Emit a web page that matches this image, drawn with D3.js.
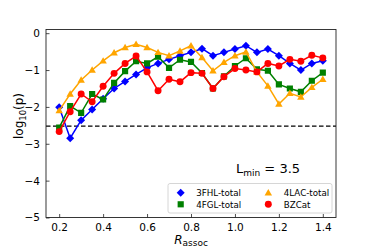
<!DOCTYPE html>
<html>
<head>
<meta charset="utf-8">
<script src="https://cdn.jsdelivr.net/npm/d3@7"></script>
<style>
  html, body { margin: 0; padding: 0; background: #fff; }
  svg { display: block; font-family: "DejaVu Sans", sans-serif; }
</style>
</head>
<body>
<svg id="chart" width="374" height="249"></svg>
<script>
const rAssoc = [0.2,0.25,0.3,0.35,0.4,0.45,0.5,0.55,0.6,0.65,0.7,0.75,0.8,0.85,0.9,0.95,1.0,1.05,1.1,1.15,1.2,1.25,1.3,1.35,1.4];
const fhl3 = [-2.01,-2.85,-2.36,-2.07,-1.78,-1.50,-1.31,-1.12,-0.94,-0.82,-0.71,-0.61,-0.52,-0.42,-0.61,-0.52,-0.43,-0.34,-0.52,-0.43,-0.61,-0.82,-1.00,-0.82,-0.75];
const fgl4 = [-2.56,-1.98,-2.16,-1.65,-1.80,-1.35,-1.03,-0.76,-0.82,-0.64,-0.94,-0.72,-0.78,-1.08,-1.50,-1.17,-0.89,-0.68,-0.98,-1.02,-1.39,-1.50,-1.59,-1.29,-1.07];
const lac4 = [-2.10,-1.65,-1.27,-1.00,-0.75,-0.53,-0.39,-0.30,-0.39,-0.52,-0.61,-0.48,-0.34,-0.66,-1.02,-0.79,-0.61,-0.51,-1.05,-1.43,-1.92,-1.63,-1.73,-1.47,-1.25];
const bzcat = [-2.67,-2.13,-1.65,-1.86,-1.44,-1.09,-0.82,-0.62,-1.05,-1.56,-1.25,-1.32,-1.07,-1.09,-1.50,-1.18,-0.96,-1.00,-1.05,-0.82,-0.89,-0.71,-0.76,-0.60,-0.67];
const threshold = Math.log10(0.003);
const xTicks = [0.2,0.4,0.6,0.8,1.0,1.2,1.4];
const yTicks = [0,-1,-2,-3,-4,-5];
const seriesNames = ["3FHL-total","4FGL-total","4LAC-total","BZCat"];
const lminText = "3.5";

const series = [
  {name: seriesNames[0], values: fhl3, color: "#0000ff", marker: "diamond"},
  {name: seriesNames[1], values: fgl4, color: "#008000", marker: "square"},
  {name: seriesNames[2], values: lac4, color: "#ffa500", marker: "triangle"},
  {name: seriesNames[3], values: bzcat, color: "#ff0000", marker: "circle"}
];

const svg = d3.select("#chart");
const L = 46, R = 336, T = 29.5, B = 217.5;
const x = d3.scaleLinear().domain([0.14, 1.46]).range([L, R]);
const y = d3.scaleLinear().domain([-5, 0.1]).range([B, T]);

function markerPath(type) {
  switch (type) {
    case "diamond": return d3.symbol().type(d3.symbolSquare).size(32)();
    case "square": return d3.symbol().type(d3.symbolSquare).size(38)();
    case "triangle": return d3.symbol().type(d3.symbolTriangle).size(24)();
    default: return d3.symbol().type(d3.symbolCircle).size(38)();
  }
}
function markerTransform(type, px, py) {
  if (type === "diamond") return `translate(${px},${py}) rotate(45)`;
  if (type === "triangle") return `translate(${px},${py + 0.6})`;
  return `translate(${px},${py})`;
}

const plot = svg.append("g");
plot.append("defs").append("clipPath").attr("id", "clip")
  .append("rect").attr("x", L).attr("y", T).attr("width", R - L).attr("height", B - T);

// threshold dashed line
plot.append("line")
  .attr("x1", L).attr("x2", R)
  .attr("y1", y(threshold)).attr("y2", y(threshold))
  .attr("stroke", "#000").attr("stroke-width", 1.3)
  .attr("stroke-dasharray", "4.5,2.5");

const line = d3.line().x((d, i) => x(rAssoc[i])).y(d => y(d));
const g = plot.append("g").attr("clip-path", "url(#clip)");
series.forEach(s => {
  g.append("path").datum(s.values)
    .attr("d", line).attr("fill", "none")
    .attr("stroke", s.color).attr("stroke-width", 1.5);
  g.selectAll(null).data(s.values).enter().append("path")
    .attr("d", markerPath(s.marker))
    .attr("transform", (d, i) => markerTransform(s.marker, x(rAssoc[i]), y(d)))
    .attr("fill", s.color);
});

// frame
svg.append("rect").attr("x", L).attr("y", T).attr("width", R - L).attr("height", B - T)
  .attr("fill", "none").attr("stroke", "#222").attr("stroke-width", 0.9);

// axes (ticks inward)
const xAxis = d3.axisBottom(x).tickValues(xTicks).tickFormat(d3.format(".1f")).tickSizeInner(-3.5).tickSizeOuter(0).tickPadding(6);
const gx = svg.append("g").attr("transform", `translate(0,${B})`).call(xAxis);
const yAxis = d3.axisLeft(y).tickValues(yTicks).tickFormat(d => d === 0 ? "0" : "\u2212" + Math.abs(d)).tickSizeInner(-3.5).tickSizeOuter(0).tickPadding(6);
const gy = svg.append("g").attr("transform", `translate(${L},0)`).call(yAxis);
[gx, gy].forEach(a => {
  a.select(".domain").remove();
  a.selectAll("line").attr("stroke", "#222").attr("stroke-width", 0.8);
  a.selectAll("text").attr("font-family", "DejaVu Sans").attr("font-size", 10.5).attr("fill", "#000");
});

// x label
const xl = svg.append("text").attr("x", 191).attr("y", 243.5).attr("text-anchor", "middle")
  .attr("font-family", "DejaVu Sans").attr("font-size", 12);
xl.append("tspan").attr("font-style", "italic").text("R");
xl.append("tspan").attr("font-size", 9).attr("dy", 2.5).text("assoc");

// y label
const yl = svg.append("text").attr("transform", "translate(23,116) rotate(-90)")
  .attr("text-anchor", "middle").attr("font-family", "DejaVu Sans").attr("font-size", 12);
yl.append("tspan").text("log");
yl.append("tspan").attr("font-size", 8.5).attr("dy", 2.5).text("10");
yl.append("tspan").attr("dy", -2.5).text("(p)");

// Lmin annotation
const lt = svg.append("text").attr("x", 236).attr("y", 173)
  .attr("font-family", "DejaVu Sans").attr("font-size", 13);
lt.append("tspan").text("L");
lt.append("tspan").attr("font-size", 9).attr("dy", 2.5).text("min");
lt.append("tspan").attr("dy", -2.5).text(" = " + lminText);

// legend
const lg = svg.append("g");
lg.append("rect").attr("x", 168).attr("y", 183.5).attr("width", 164).attr("height", 29.5)
  .attr("rx", 2).attr("fill", "#fff").attr("fill-opacity", 0.8)
  .attr("stroke", "#ccc").attr("stroke-width", 0.8);
const legPos = [[180.7, 192.7], [180.7, 204.3], [268.3, 192.7], [268.3, 204.3]];
series.forEach((s, i) => {
  const [mx, my] = legPos[i];
  lg.append("path").attr("d", markerPath(s.marker))
    .attr("transform", markerTransform(s.marker, mx, my)).attr("fill", s.color);
  lg.append("text").attr("x", mx + 15.5).attr("y", my + 3.2)
    .attr("font-family", "DejaVu Sans").attr("font-size", 8.7).text(s.name);
});
</script>
</body>
</html>
